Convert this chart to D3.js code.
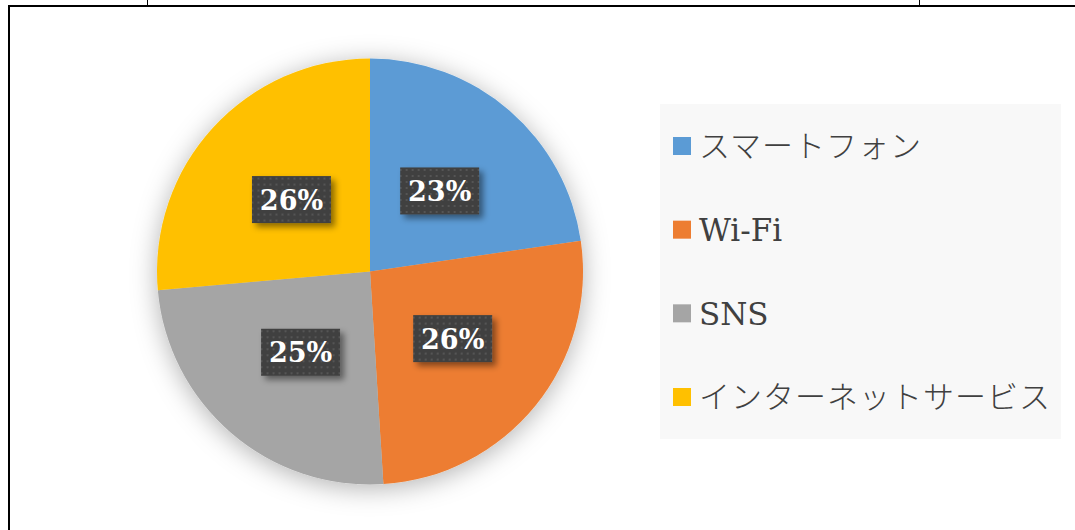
<!DOCTYPE html>
<html>
<head>
<meta charset="utf-8">
<script src="https://cdn.jsdelivr.net/npm/d3@7"></script>
<style>
  body { margin: 0; background: #ffffff; }
  svg { display: block; }
</style>
</head>
<body>
<div id="chart"></div>
<script>
// categories and shares
var categories = ["スマートフォン", "Wi-Fi", "SNS", "インターネットサービス"];
var shares = [22.7, 26.3, 24.6, 26.4];
var colors = ["#5b9bd5", "#ed7d31", "#a5a5a5", "#ffc000"];

var width = 1075,
    height = 530;

var svg = d3.select("#chart")
    .append("svg")
    .attr("width", width)
    .attr("height", height);

var defs = svg.append("defs");

// soft shadow around the pie
var pieShadow = defs.append("filter")
    .attr("id", "pieShadow")
    .attr("x", "-30%").attr("y", "-30%")
    .attr("width", "160%").attr("height", "160%");
pieShadow.append("feDropShadow")
    .attr("dx", 0).attr("dy", 4)
    .attr("stdDeviation", 13)
    .attr("flood-color", "#000")
    .attr("flood-opacity", 0.3);

// shadow behind the label boxes
var boxShadow = defs.append("filter")
    .attr("id", "boxShadow")
    .attr("x", "-30%").attr("y", "-30%")
    .attr("width", "160%").attr("height", "160%");
boxShadow.append("feDropShadow")
    .attr("dx", 4).attr("dy", 4)
    .attr("stdDeviation", 3)
    .attr("flood-color", "#000")
    .attr("flood-opacity", 0.45);

// dotted dark fill of the label boxes
var dots = defs.append("pattern")
    .attr("id", "dots")
    .attr("width", 6).attr("height", 6)
    .attr("patternUnits", "userSpaceOnUse");
dots.append("rect")
    .attr("width", 6).attr("height", 6)
    .attr("fill", "#404040");
dots.append("rect")
    .attr("x", 2).attr("y", 2)
    .attr("width", 2).attr("height", 2)
    .attr("fill", "#555555");

// frame lines of the surrounding table
var frame = svg.append("g").attr("stroke", "#000");
frame.append("line")
    .attr("x1", 8).attr("x2", width)
    .attr("y1", 6).attr("y2", 6)
    .attr("stroke-width", 2);
frame.append("line")
    .attr("x1", 9).attr("x2", 9)
    .attr("y1", 5).attr("y2", height)
    .attr("stroke-width", 2);
frame.append("line")
    .attr("x1", 147.5).attr("x2", 147.5)
    .attr("y1", 0).attr("y2", 6)
    .attr("stroke-width", 1);
frame.append("line")
    .attr("x1", 919.5).attr("x2", 919.5)
    .attr("y1", 0).attr("y2", 6)
    .attr("stroke-width", 1);

// pie
var cx = 370, cy = 271.5, radius = 213;

var pie = d3.pie().sort(null).value(function (d) { return d; });
var arcs = pie(shares);
var total = d3.sum(shares);

var arc = d3.arc().innerRadius(0).outerRadius(radius);

var pieG = svg.append("g")
    .attr("transform", "translate(" + cx + "," + cy + ")");

pieG.append("g")
    .attr("filter", "url(#pieShadow)")
    .selectAll("path")
    .data(arcs)
    .join("path")
    .attr("d", arc)
    .attr("fill", function (d, i) { return colors[i]; });

// data labels
var boxW = 79, boxH = 47;
var labels = pieG.append("g")
    .selectAll("g")
    .data(arcs)
    .join("g")
    .attr("transform", function (d) {
        var c = arc.centroid(d);
        return "translate(" + c[0] + "," + c[1] + ")";
    });

labels.append("rect")
    .attr("x", -boxW / 2).attr("y", -boxH / 2)
    .attr("width", boxW).attr("height", boxH)
    .attr("fill", "url(#dots)")
    .attr("filter", "url(#boxShadow)");

labels.append("text")
    .attr("text-anchor", "middle")
    .attr("dy", "0.37em")
    .style("font-family", "'DejaVu Serif', serif")
    .style("font-weight", "bold")
    .style("font-size", "27px")
    .attr("fill", "#ffffff")
    .text(function (d) { return Math.round(d.value / total * 100) + "%"; });

// legend
var legend = svg.append("g");
legend.append("rect")
    .attr("x", 660).attr("y", 104)
    .attr("width", 401).attr("height", 335)
    .attr("fill", "#f8f8f8");

var rowY = d3.scalePoint()
    .domain(categories)
    .range([146, 397]);

var isLatin = function (d) { return /^[\x00-\x7f]+$/.test(d); };

var items = legend.selectAll("g.item")
    .data(categories)
    .join("g")
    .attr("class", "item")
    .attr("transform", function (d) { return "translate(673," + rowY(d) + ")"; });

items.append("rect")
    .attr("x", 0).attr("y", -9)
    .attr("width", 18).attr("height", 18)
    .attr("fill", function (d, i) { return colors[i]; });

items.append("text")
    .attr("x", 26)
    .attr("dy", "0.36em")
    .style("font-family", function (d) {
        return isLatin(d) ? "'DejaVu Serif', serif" : "'Noto Sans CJK JP', sans-serif";
    })
    .style("font-weight", function (d) { return isLatin(d) ? "normal" : 300; })
    .style("letter-spacing", function (d) { return isLatin(d) ? "0px" : "1px"; })
    .style("font-size", "31px")
    .attr("fill", "#404040")
    .text(function (d) { return d; });
</script>
</body>
</html>
